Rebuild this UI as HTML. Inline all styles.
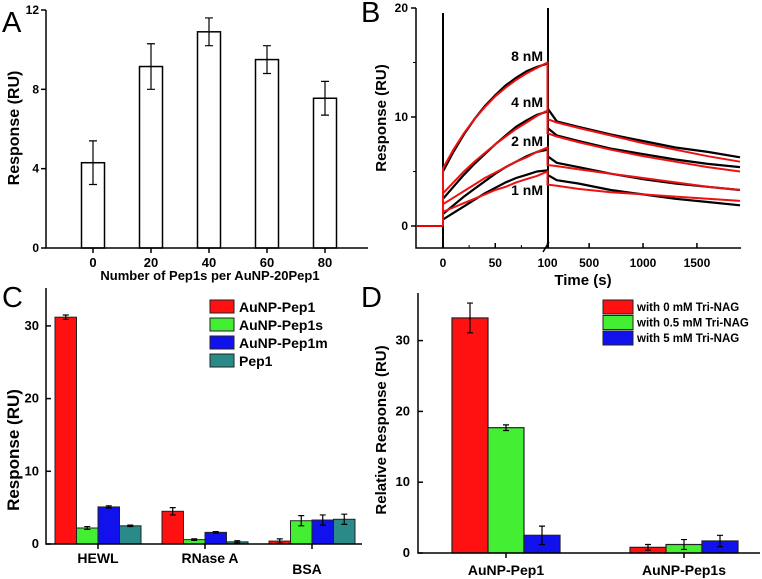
<!DOCTYPE html>
<html><head><meta charset="utf-8"><style>
body{margin:0;background:#fff}
svg{display:block;font-family:"Liberation Sans",Arial,sans-serif;font-weight:bold}
</style></head><body>
<svg id="fig" width="762" height="579" viewBox="0 0 762 579" xmlns="http://www.w3.org/2000/svg"></svg>
<script>
// ---- Panel A data
const aCats=["0","20","40","60","80"];
const aVals=[4.3,9.15,10.9,9.5,7.55];
const aErr=[1.1,1.15,0.7,0.7,0.85];
const aTicks=[0,4,8,12];
// ---- Panel B data
const bAssocT=[0,10,20,30,40,50,60,70,80,90,100];
const bDissT=[100,200,400,700,1000,1300,1600,1900];
const bConc=["8 nM","4 nM","2 nM","1 nM"];
const bFitAssoc=[[5.3,7.0,8.5,9.8,10.9,11.9,12.7,13.4,14.0,14.5,15.0],[3.0,4.0,5.0,5.9,6.7,7.5,8.2,8.9,9.5,10.1,10.6],[2.0,2.6,3.2,3.8,4.4,4.9,5.4,5.9,6.3,6.8,7.2],[1.3,1.7,2.1,2.5,2.9,3.3,3.6,4.0,4.3,4.6,5.0]];
const bFitDiss=[[9.8,9.5,9.0,8.3,7.6,7.0,6.4,5.9],[8.5,8.2,7.7,7.0,6.4,5.9,5.4,5.0],[5.6,5.5,5.2,4.8,4.4,4.0,3.6,3.3],[3.8,3.7,3.4,3.1,2.9,2.7,2.5,2.3]];
const bObsAssoc=[[5.0,6.8,8.4,9.8,11.0,12.0,12.9,13.6,14.2,14.6,14.9],[2.5,3.6,4.7,5.7,6.6,7.5,8.3,9.1,9.7,10.2,10.5],[1.1,1.9,2.7,3.4,4.1,4.8,5.4,5.9,6.4,6.8,7.0],[0.6,1.2,1.8,2.4,3.0,3.5,4.0,4.4,4.7,5.0,5.1]];
const bObsDiss=[[10.8,9.6,9.1,8.4,7.8,7.2,6.8,6.3],[9.0,8.3,7.8,7.1,6.6,6.1,5.7,5.4],[6.4,5.8,5.4,4.8,4.3,3.9,3.6,3.3],[4.7,4.2,3.9,3.3,2.9,2.5,2.2,1.9]];
const bYTicks=[0,10,20];
const bXTicks1=[0,50,100];
const bXTicks2=[500,1000,1500];
// ---- Panel C data
const cCats=["HEWL","RNase A","BSA"];
const cSeries=["AuNP-Pep1","AuNP-Pep1s","AuNP-Pep1m","Pep1"];
const cVals=[[31.2,2.2,5.1,2.5],[4.5,0.6,1.6,0.3],[0.4,3.2,3.3,3.4]];
const cErr=[[0.3,0.2,0.15,0.1],[0.5,0.1,0.1,0.15],[0.3,0.7,0.7,0.7]];
const cTicks=[0,10,20,30];
// ---- Panel D data
const dCats=["AuNP-Pep1","AuNP-Pep1s"];
const dSeries=["with 0 mM Tri-NAG","with 0.5 mM Tri-NAG","with 5 mM Tri-NAG"];
const dVals=[[33.2,17.7,2.5],[0.8,1.2,1.7]];
const dErr=[[2.1,0.4,1.3],[0.4,0.7,0.8]];
const dTicks=[0,10,20,30];

const svg=document.getElementById('fig');
const NS="http://www.w3.org/2000/svg";
function mk(tag,at,parent){const e=document.createElementNS(NS,tag);for(const k in at)e.setAttribute(k,at[k]);(parent||svg).appendChild(e);return e;}
function txt(s,at,parent){const e=mk('text',at,parent);e.textContent=s;return e;}
function errbar(g,x,y1,y2,w){mk('path',{d:`M${x},${y1}V${y2}M${x-w},${y1}H${x+w}M${x-w},${y2}H${x+w}`,stroke:'#000','stroke-width':1.2,fill:'none'},g);}

// Panel letters
[["A",2,32],["B",361,22],["C",2,307],["D",361,307]].forEach(p=>{const t=txt(p[0],{x:p[1],y:p[2],'font-size':29,'font-weight':'normal'});});

// ===== Panel A
(function(){
 const g=mk('g',{});
 const y=v=>248-v*(238/12); const x=i=>93+i*58;
 aVals.forEach((v,i)=>{const r=mk('rect',{x:x(i)-11.5,y:y(v),width:23,height:248-y(v),fill:'#fff',stroke:'#000','stroke-width':1.5},g);
  errbar(g,x(i),y(v+aErr[i]),y(v-aErr[i]),4);
  mk('line',{x1:x(i),x2:x(i),y1:248,y2:253,stroke:'#000','stroke-width':1.5},g);
  txt(aCats[i],{x:x(i),y:267,'font-size':13,'text-anchor':'middle'},g);});
 mk('path',{d:'M46,10V248H368',stroke:'#000','stroke-width':1.5,fill:'none'},g);
 aTicks.forEach(t=>{mk('line',{x1:41,x2:46,y1:y(t),y2:y(t),stroke:'#000','stroke-width':1.5},g);txt(t,{x:39,y:y(t)+4,'font-size':12,'text-anchor':'end'},g);});
 const xl=txt('Number of Pep1s per AuNP-20Pep1',{x:210,y:280,'font-size':13,'text-anchor':'middle'},g);
 const yl=txt('Response (RU)',{x:0,y:0,'font-size':16,'text-anchor':'middle',transform:'translate(19,128) rotate(-90)'},g);
})();

// ===== Panel B
(function(){
 const g=mk('g',{});
 const y=v=>226-v*10.9;
 const x=t=>t<=100?443+t*1.045:546+(t-100)*0.1078;
 mk('line',{x1:443,x2:443,y1:248,y2:13,stroke:'#000','stroke-width':2},g);
 mk('line',{x1:548,x2:548,y1:248,y2:8,stroke:'#000','stroke-width':2},g);
 const pts=(ts,vs)=>ts.map((t,i)=>x(t).toFixed(1)+','+y(vs[i]).toFixed(1)).join(' ');
 bConc.forEach((c,k)=>{
  const o1=mk('polyline',{points:pts(bAssocT,bObsAssoc[k]),fill:'none',stroke:'#000','stroke-width':2.2},g);
  const o2=mk('polyline',{points:pts(bDissT,bObsDiss[k]),fill:'none',stroke:'#000','stroke-width':2.2},g);
 });
 mk('polyline',{points:`${x(-25)},${y(0)} ${x(0)},${y(0)}`,fill:'none',stroke:'#e00','stroke-width':2},g);
 bConc.forEach((c,k)=>{
  const p=x(0)+','+y(0)+' '+pts(bAssocT,bFitAssoc[k])+' '+pts(bDissT,bFitDiss[k]);
  const f=mk('polyline',{points:p,fill:'none',stroke:'#ee1111','stroke-width':2},g);
  const ly=[61,107,146,195][k];
  const l=txt(c,{x:543,y:ly,'font-size':14,'text-anchor':'end'},g);
 });
 mk('path',{d:'M416,8V248H741',stroke:'#000','stroke-width':1.5,fill:'none'},g);
 mk('path',{d:'M543,252L549,242',stroke:'#000','stroke-width':1.5},g);
 bYTicks.forEach(t=>{mk('line',{x1:411,x2:416,y1:y(t),y2:y(t),stroke:'#000','stroke-width':1.5},g);txt(t,{x:408,y:y(t)+4,'font-size':12,'text-anchor':'end'},g);});
 [5,15].forEach(t=>mk('line',{x1:413,x2:416,y1:y(t),y2:y(t),stroke:'#000','stroke-width':1},g));
 bXTicks1.concat(bXTicks2).forEach(t=>{mk('line',{x1:x(t),x2:x(t),y1:248,y2:243,stroke:'#000','stroke-width':1.5},g);txt(t,{x:x(t),y:267,'font-size':12,'text-anchor':'middle'},g);});
 [25,75].forEach(t=>mk('line',{x1:x(t),x2:x(t),y1:248,y2:245,stroke:'#000','stroke-width':1},g));
 const xl=txt('Time (s)',{x:583,y:285,'font-size':15,'text-anchor':'middle'},g);
 const yl=txt('Response (RU)',{x:0,y:0,'font-size':15,'text-anchor':'middle',transform:'translate(386,118) rotate(-90)'},g);
})();

// ===== Panel C
(function(){
 const g=mk('g',{});
 const cols=['#ff1111','#44ee33','#1111ee','#2a8a88'];
 const y=v=>544-v*7.27; const gx=i=>98+i*107; const bw=21.5;
 cVals.forEach((vs,i)=>{vs.forEach((v,j)=>{const bx=gx(i)-2*bw+j*bw;
  const r=mk('rect',{x:bx,y:y(v),width:bw,height:544-y(v),fill:cols[j],stroke:'#222','stroke-width':1},g);
  errbar(g,bx+bw/2,y(v+cErr[i][j]),y(v-cErr[i][j]),3);});
  mk('line',{x1:gx(i),x2:gx(i),y1:544,y2:549,stroke:'#000','stroke-width':1.5},g);
  txt(cCats[i],{x:gx(i)+[0,5,-5][i],y:[563,563,574][i],'font-size':14,'text-anchor':'middle'},g);});
 mk('path',{d:'M46,288V544H362',stroke:'#000','stroke-width':1.5,fill:'none'},g);
 cTicks.forEach(t=>{mk('line',{x1:46,x2:51,y1:y(t),y2:y(t),stroke:'#000','stroke-width':1.5},g);txt(t,{x:39,y:y(t)+4,'font-size':13,'text-anchor':'end'},g);});
 cSeries.forEach((s,j)=>{const ly=300+j*18;const r=mk('rect',{x:210,y:ly,width:24,height:13,fill:cols[j],stroke:'#222','stroke-width':1},g);
  const t=txt(s,{x:239,y:ly+12,'font-size':14},g);});
 const yl=txt('Response (RU)',{x:0,y:0,'font-size':17,'text-anchor':'middle',transform:'translate(19,450) rotate(-90)'},g);
})();

// ===== Panel D
(function(){
 const g=mk('g',{});
 const cols=['#ff1111','#44ee33','#1111ee'];
 const y=v=>553-v*7.08; const gx=i=>506+i*178; const bw=36;
 dVals.forEach((vs,i)=>{vs.forEach((v,j)=>{const bx=gx(i)-1.5*bw+j*bw;
  const r=mk('rect',{x:bx,y:y(v),width:bw,height:553-y(v),fill:cols[j],stroke:'#222','stroke-width':1.2},g);
  errbar(g,bx+bw/2,y(v+dErr[i][j]),y(v-dErr[i][j]),3);});
  mk('line',{x1:gx(i),x2:gx(i),y1:553,y2:558,stroke:'#000','stroke-width':1.5},g);
  txt(dCats[i],{x:gx(i),y:575,'font-size':14,'text-anchor':'middle'},g);});
 mk('path',{d:'M418,293V553H760',stroke:'#000','stroke-width':1.5,fill:'none'},g);
 dTicks.forEach(t=>{mk('line',{x1:418,x2:423,y1:y(t),y2:y(t),stroke:'#000','stroke-width':1.5},g);txt(t,{x:410,y:y(t)+4,'font-size':13,'text-anchor':'end'},g);});
 dSeries.forEach((s,j)=>{const ly=300+j*15.5;const r=mk('rect',{x:603,y:ly,width:30,height:14,fill:cols[j],stroke:'#222','stroke-width':1},g);
  const t=txt(s,{x:637,y:ly+11,'font-size':11.5},g);});
 const yl=txt('Relative Response (RU)',{x:0,y:0,'font-size':15,'text-anchor':'middle',transform:'translate(386,430) rotate(-90)'},g);
})();
</script>
</body></html>
